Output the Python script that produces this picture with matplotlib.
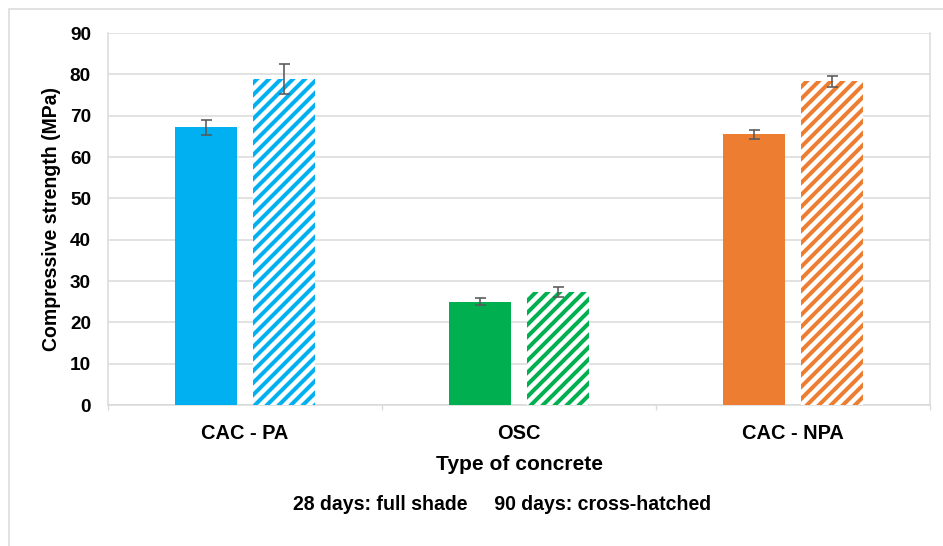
import numpy as np
import matplotlib
matplotlib.use("Agg")
import matplotlib.pyplot as plt
from matplotlib.patches import Rectangle
from matplotlib.ticker import FixedLocator

# data
categories = ["CAC - PA", "OSC", "CAC - NPA"]
strength_28 = [67.2, 25.0, 65.5]
err_28 = [1.8, 0.9, 1.1]
strength_90 = [78.9, 27.3, 78.3]
err_90 = [3.7, 1.2, 1.3]
colors = ["#00B0F0", "#00B050", "#ED7D31"]

plt.rcParams["font.family"] = ["Liberation Sans", "DejaVu Sans"]
plt.rcParams["font.weight"] = "bold"
plt.rcParams["hatch.linewidth"] = 4.0

dpi = 72
fig = plt.figure(figsize=(943 / dpi, 546 / dpi), dpi=dpi)
ax = fig.add_axes([108 / 943, 1 - 405 / 546, (930 - 108) / 943, (405 - 33) / 546])

# outer chart border
fig.add_artist(Rectangle((9 / 943, -0.05), 1.2, 1 - 9 / 546 + 0.05, transform=fig.transFigure,
                         fill=False, edgecolor="#D9D9D9", lw=1.5))

x = np.arange(len(categories))
w = 0.226
off = 0.141
ekw = dict(ecolor="#595959", elinewidth=1.6, capthick=1.6, capsize=5.5)

ax.bar(x - off, strength_28, w, color=colors, yerr=err_28, error_kw=ekw, zorder=3)
ax.bar(x + off, strength_90, w, facecolor="white", edgecolor=colors, linewidth=0,
       hatch="//", yerr=err_90, error_kw=ekw, zorder=3)

ax.set_xlim(-0.5, 2.5)
ax.set_ylim(0, 90)
ax.set_yticks(np.arange(0, 91, 10))
ax.set_xticks(x)
ax.set_xticklabels(categories)
ax.xaxis.set_minor_locator(FixedLocator([-0.5, 0.5, 1.5, 2.5]))
ax.tick_params(axis="x", which="major", length=0, pad=19, labelsize=20)
ax.tick_params(axis="x", which="minor", length=5, width=1.3, color="#D9D9D9")
ax.tick_params(axis="y", length=0, pad=17, labelsize=19)
ax.grid(axis="y", color="#D9D9D9", lw=1.5, zorder=0)

for s in ["left", "bottom", "right"]:
    ax.spines[s].set_color("#D9D9D9")
    ax.spines[s].set_linewidth(1.5)
ax.spines["top"].set_visible(False)

ax.set_ylabel("Compressive strength (MPa)", fontsize=19.5, fontweight="bold", labelpad=9)
ax.set_xlabel("Type of concrete", fontsize=21, fontweight="bold", labelpad=12)

fig.text(502 / 943, 1 - 504 / 546, "28 days: full shade     90 days: cross-hatched",
         ha="center", va="center", fontsize=19.5, fontweight="bold")

fig.savefig("out.png", dpi=dpi)
